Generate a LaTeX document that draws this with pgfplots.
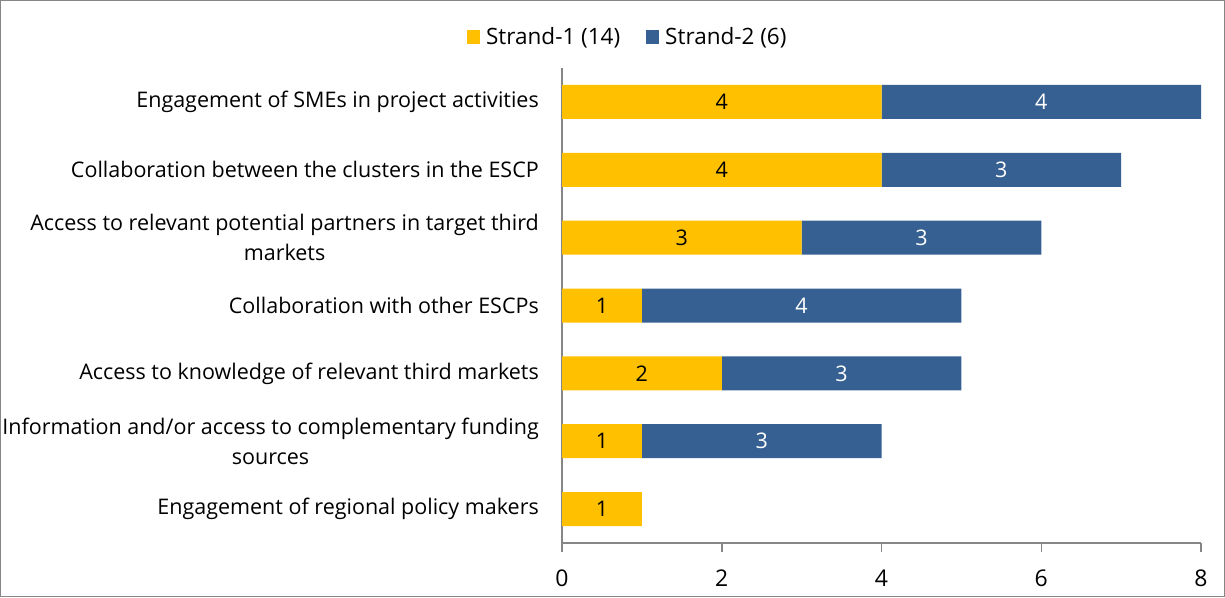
\documentclass[border=0pt]{standalone}
\usepackage{pgfplots}
\pgfplotsset{compat=1.18}
\usepackage{fontspec}
\setmainfont{Open Sans}
\definecolor{yel}{HTML}{FFC000}
\definecolor{blu}{HTML}{366092}
\definecolor{axg}{HTML}{868686}
\begin{document}
\begin{tikzpicture}[x=1pt,y=1pt]
\useasboundingbox (0,0) rectangle (1225,597);
\draw[axg, line width=1pt] (0.5,0.5) rectangle (1224.5,596.5);
\begin{axis}[
  at={(562pt,54pt)}, anchor=south west, scale only axis,
  width=639pt, height=475pt,
  xbar stacked, bar width=34pt,
  xmin=0, xmax=8, ymin=-0.5, ymax=6.5,
  axis x line*=bottom, axis y line*=left,
  axis line style={axg, line width=1.5pt},
  xtick={0,2,4,6,8}, tick align=outside,
  major tick length=9pt,
  x tick style={axg, line width=1.5pt},
  y tick style={draw=none},
  ytick={0,...,6},
  yticklabels={
    {Engagement of regional policy makers},
    {Information and/or access to complementary funding\\sources},
    {Access to knowledge of relevant third markets},
    {Collaboration with other ESCPs},
    {Access to relevant potential partners in target third\\markets},
    {Collaboration between the clusters in the ESCP},
    {Engagement of SMEs in project activities}},
  yticklabel style={align=center, font=\fontsize{21.5}{30}\selectfont, inner sep=0pt},
  yticklabel shift=14pt,
  xticklabel style={font=\fontsize{23}{26}\selectfont, inner sep=0pt},
  xticklabel shift=18pt,
  /pgf/number format/assume math mode=true,
  legend columns=2,
  legend style={at={(0.103,1.065)}, anchor=center, draw=none, fill=none,
    font=\fontsize{22.5}{26}\selectfont, column sep=4pt,
    /tikz/every even column/.append style={column sep=24pt}},
  legend image code/.code={\fill[#1] (0pt,-7pt) rectangle (13pt,7pt);},
]
\addplot[fill=yel, draw=none] coordinates {(1,0) (1,1) (2,2) (1,3) (3,4) (4,5) (4,6)};
\addlegendentry{Strand-1 (14)}
\addplot[fill=blu, draw=none] coordinates {(0,0) (3,1) (3,2) (4,3) (3,4) (3,5) (4,6)};
\addlegendentry{Strand-2 (6)}
\end{axis}
\begin{axis}[
  at={(562pt,54pt)}, anchor=south west, scale only axis,
  width=639pt, height=475pt,
  xmin=0, xmax=8, ymin=-0.5, ymax=6.5, hide axis,
  every node near coord/.append style={anchor=center, font=\fontsize{21.5}{26}\selectfont},
]
\addplot[only marks, mark=none, nodes near coords, point meta=explicit symbolic, black]
  coordinates {(0.5,0)[1] (0.5,1)[1] (1,2)[2] (0.5,3)[1] (1.5,4)[3] (2,5)[4] (2,6)[4]};
\addplot[only marks, mark=none, nodes near coords, point meta=explicit symbolic, white]
  coordinates {(2.5,1)[3] (3.5,2)[3] (3,3)[4] (4.5,4)[3] (5.5,5)[3] (6,6)[4]};
\end{axis}
\end{tikzpicture}
\end{document}
